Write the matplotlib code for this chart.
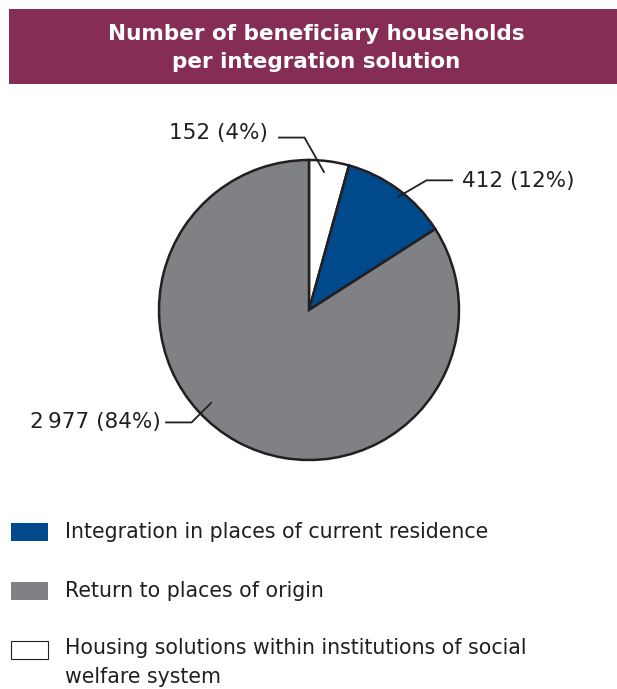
import matplotlib
matplotlib.use("Agg")
import matplotlib.pyplot as plt
from matplotlib.patches import Rectangle
import numpy as np

# ---- data ----
categories = ["Integration in places of current residence",
              "Return to places of origin",
              "Housing solutions within institutions of social\nwelfare system"]
values = [412, 2977, 152]
shares = [12, 84, 4]
value_labels = ["412 (12%)", "2\u2009977 (84%)", "152 (4%)"]
colors = ["#004a8c", "#808185", "#ffffff"]

title = "Number of beneficiary households\nper integration solution"

W, H = 617, 689
fig = plt.figure(figsize=(W / 100, H / 100), dpi=100)
plt.rcParams['font.family'] = ['DejaVu Sans']

def fx(px):
    return px / W

def fy(py):
    return 1 - py / H

# title banner
fig.patches.append(Rectangle((fx(9), fy(84)), fx(617) - fx(9), fy(9) - fy(84),
                             transform=fig.transFigure, facecolor="#862d55",
                             edgecolor="none", zorder=0))
fig.text(fx(316), fy(48), title, ha="center", va="center", color="white",
         fontsize=15.5, fontweight="bold", linespacing=1.5)

# pie, order clockwise from top: white, blue, grey
order = [2, 0, 1]
cx, cy, R = 309, 310, 150
ax = fig.add_axes([fx(cx - R), fy(cy + R), fx(2 * R), fy(cy - R) - fy(cy + R)])
wedges, _ = ax.pie([values[i] for i in order], colors=[colors[i] for i in order],
                   startangle=90, counterclock=False, radius=1,
                   wedgeprops=dict(edgecolor="#231f20", linewidth=1.8))
ax.set_xlim(-1, 1)
ax.set_ylim(-1, 1)
ax.set_aspect("auto")
ax.axis("off")

# leader lines: anchor angle/radius, elbow offset, horizontal run, text gap, text lift (data units)
leaders = {
    2: dict(ang=83.8, r=0.925, elbow=(-0.13, 0.23), end=-0.17, gap=0.075, lift=0.03, ha="right"),
    0: dict(ang=51.8, r=0.96, elbow=(0.19, 0.11), end=0.17, gap=0.065, lift=-0.005, ha="left"),
    1: dict(ang=223.5, r=0.9, elbow=(-0.13, -0.13), end=-0.17, gap=0.035, lift=0.005, ha="right"),
}
for i, spec in leaders.items():
    a = np.deg2rad(spec["ang"])
    x0, y0 = spec["r"] * np.cos(a), spec["r"] * np.sin(a)
    x1, y1 = x0 + spec["elbow"][0], y0 + spec["elbow"][1]
    x2 = x1 + spec["end"]
    ax.plot([x0, x1, x2], [y0, y1, y1], color="#231f20", lw=1.3,
            clip_on=False, solid_joinstyle="miter")
    tx = x2 + (-spec["gap"] if spec["ha"] == "right" else spec["gap"])
    ax.text(tx, y1 + spec["lift"], value_labels[i], ha=spec["ha"], va="center",
            fontsize=15.5, color="#231f20", clip_on=False)

# legend
leg_y = [532, 591, 650]
for i, yy in enumerate(leg_y):
    fig.patches.append(Rectangle((fx(11), fy(yy + 9)), fx(37), fy(0) - fy(18),
                                 transform=fig.transFigure, facecolor=colors[i],
                                 edgecolor="#231f20" if colors[i] == "#ffffff" else "none",
                                 linewidth=0.8))
    if "\n" in categories[i]:
        fig.text(fx(65), fy(yy - 12), categories[i], ha="left", va="top",
                 fontsize=14.8, color="#231f20", linespacing=1.55)
    else:
        fig.text(fx(65), fy(yy), categories[i], ha="left", va="center",
                 fontsize=14.8, color="#231f20")

fig.savefig("out.png", dpi=100, facecolor="white")
